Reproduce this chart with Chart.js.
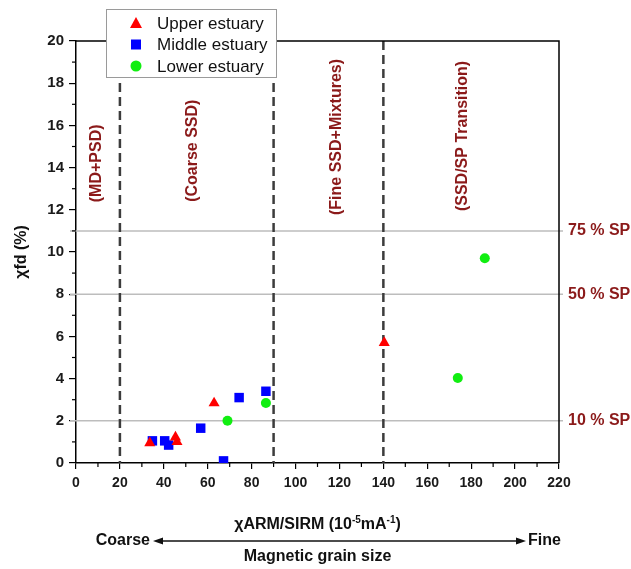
<!DOCTYPE html>
<html>
<head>
<meta charset="utf-8">
<script src="https://cdn.jsdelivr.net/npm/chart.js@4.4.0/dist/chart.umd.min.js"></script>
<style>
  body { margin: 0; background: #fff; }
  canvas { display: block; }
</style>
</head>
<body>
<canvas id="grainChart" width="631" height="569"></canvas>
<script>
// values
var upperX = [33.6, 45.3, 46.0, 62.9, 140.4];
var upperY = [0.95, 1.22, 1.0, 2.84, 5.7];
var middleX = [34.8, 40.4, 42.2, 56.8, 67.2, 74.3, 86.5];
var middleY = [1.05, 1.05, 0.85, 1.65, 0.1, 3.1, 3.4];
var lowerX = [69.0, 86.5, 173.9, 186.2];
var lowerY = [2.0, 2.84, 4.03, 9.7];

var spLevels = [2, 8, 11];
var spLabels = ["10 % SP", "50 % SP", "75 % SP"];
var boundaries = [20, 90, 140];
var regionNames = ["(MD+PSD)", "(Coarse SSD)", "(Fine SSD+Mixtures)", "(SSD/SP Transition)"];
var regionX = [9.5, 53.3, 118.8, 175.9];
var regionY = [14.2, 14.8, 15.45, 15.5];

var FONT = "'Liberation Sans', Arial, sans-serif";
var DARKRED = "#8b1a1a";

function toPoints(xs, ys) {
	var pts = [];
	for (var i = 0; i < xs.length; i++) pts.push({x: xs[i], y: ys[i]});
	return pts;
}

// text with small raised parts, centred on cx
function drawSupText(ctx, parts, cx, cy) {
	var big = "bold 16px " + FONT, small = "bold 10px " + FONT;
	var total = 0;
	parts.forEach(function(p) { ctx.font = p[1] ? small : big; total += ctx.measureText(p[0]).width; });
	var x = cx - total / 2;
	ctx.textAlign = "left";
	parts.forEach(function(p) {
		ctx.font = p[1] ? small : big;
		ctx.fillText(p[0], x, p[1] ? cy - 5 : cy);
		x += ctx.measureText(p[0]).width;
	});
}

var overlay = {
	id: "overlay",
	beforeDatasetsDraw: function(chart) {
		var ctx = chart.ctx, a = chart.chartArea;
		var xs = chart.scales.x, ys = chart.scales.y;
		ctx.save();
		// SP reference lines
		ctx.strokeStyle = "#bdbdbd";
		ctx.lineWidth = 1.5;
		spLevels.forEach(function(v) {
			var py = ys.getPixelForValue(v);
			ctx.beginPath();
			ctx.moveTo(a.left - 6, py);
			ctx.lineTo(a.right + 4, py);
			ctx.stroke();
		});
		// domain boundaries
		ctx.strokeStyle = "#3c3c3c";
		ctx.lineWidth = 2.5;
		ctx.setLineDash([9, 5]);
		boundaries.forEach(function(v) {
			var px = xs.getPixelForValue(v);
			ctx.beginPath();
			ctx.moveTo(px, a.top);
			ctx.lineTo(px, a.bottom);
			ctx.stroke();
		});
		ctx.setLineDash([]);
		// region names
		ctx.fillStyle = DARKRED;
		ctx.font = "bold 16px " + FONT;
		ctx.textAlign = "center";
		ctx.textBaseline = "middle";
		regionNames.forEach(function(t, i) {
			ctx.save();
			ctx.translate(xs.getPixelForValue(regionX[i]), ys.getPixelForValue(regionY[i]));
			ctx.rotate(-Math.PI / 2);
			ctx.fillText(t, 0, 0);
			ctx.restore();
		});
		ctx.restore();
	},
	afterDraw: function(chart) {
		var ctx = chart.ctx, a = chart.chartArea;
		var xs = chart.scales.x, ys = chart.scales.y;
		ctx.save();
		// frame top / right
		ctx.strokeStyle = "#000";
		ctx.lineWidth = 1.5;
		ctx.beginPath();
		ctx.moveTo(a.left, a.top);
		ctx.lineTo(a.right, a.top);
		ctx.lineTo(a.right, a.bottom);
		ctx.stroke();
		// minor ticks
		ctx.lineWidth = 1.2;
		for (var v = 10; v < 220; v += 20) {
			var px = xs.getPixelForValue(v);
			ctx.beginPath(); ctx.moveTo(px, a.bottom); ctx.lineTo(px, a.bottom + 4); ctx.stroke();
		}
		for (var w = 1; w < 20; w += 2) {
			var py = ys.getPixelForValue(w);
			ctx.beginPath(); ctx.moveTo(a.left, py); ctx.lineTo(a.left - 4, py); ctx.stroke();
		}
		// SP labels
		ctx.fillStyle = DARKRED;
		ctx.font = "bold 16px " + FONT;
		ctx.textAlign = "left";
		ctx.textBaseline = "middle";
		spLevels.forEach(function(lv, i) {
			ctx.fillText(spLabels[i], a.right + 9, ys.getPixelForValue(lv));
		});
		// axis titles
		ctx.fillStyle = "#111";
		var mid = (a.left + a.right) / 2;
		drawSupText(ctx, [["\u03C7ARM/SIRM (10", false], ["-5", true], ["mA", false], ["-1", true], [")", false]], mid, 525);
		ctx.font = "bold 16px " + FONT;
		ctx.textAlign = "center";
		ctx.fillText("Magnetic grain size", mid, 557);
		ctx.textAlign = "right";
		ctx.fillText("Coarse", 150, 541);
		ctx.textAlign = "left";
		ctx.fillText("Fine", 528, 541);
		ctx.save();
		ctx.translate(22, (a.top + a.bottom) / 2);
		ctx.rotate(-Math.PI / 2);
		ctx.textAlign = "center";
		ctx.fillText("\u03C7fd (%)", 0, 0);
		ctx.restore();
		// grain size arrow
		ctx.strokeStyle = "#111";
		ctx.lineWidth = 1.5;
		ctx.beginPath(); ctx.moveTo(160, 541); ctx.lineTo(518, 541); ctx.stroke();
		ctx.beginPath();
		ctx.moveTo(153, 541); ctx.lineTo(163, 537.5); ctx.lineTo(163, 544.5); ctx.closePath();
		ctx.moveTo(526, 541); ctx.lineTo(516, 537.5); ctx.lineTo(516, 544.5); ctx.closePath();
		ctx.fillStyle = "#111";
		ctx.fill();
		// legend
		ctx.fillStyle = "#fff";
		ctx.fillRect(106, 9, 171, 68);
		ctx.strokeStyle = "#9a9a9a";
		ctx.lineWidth = 1;
		ctx.strokeRect(106.5, 9.5, 170, 68);
		ctx.font = "17px " + FONT;
		ctx.textBaseline = "middle";
		chart.data.datasets.forEach(function(ds, i) {
			var cy = 23 + i * 21.5, cx = 136;
			ctx.fillStyle = ds.backgroundColor;
			ctx.beginPath();
			if (ds.pointStyle === "triangle") {
				ctx.moveTo(cx, cy - 6); ctx.lineTo(cx + 6, cy + 5); ctx.lineTo(cx - 6, cy + 5); ctx.closePath();
			} else if (ds.pointStyle === "rect") {
				ctx.rect(cx - 5, cy - 5, 10, 10);
			} else {
				ctx.arc(cx, cy, 5.5, 0, Math.PI * 2);
			}
			ctx.fill();
			ctx.fillStyle = "#111";
			ctx.textAlign = "left";
			ctx.fillText(ds.label, 157, cy + 1);
		});
		ctx.restore();
	}
};

var grainChart = new Chart("grainChart", {
	type: "scatter",
	data: {
		datasets: [{
			label: "Upper estuary",
			data: toPoints(upperX, upperY),
			pointStyle: "triangle",
			pointRadius: 6.4,
			backgroundColor: "#ff0000",
			borderColor: "#ff0000",
			borderWidth: 0
		}, {
			label: "Middle estuary",
			data: toPoints(middleX, middleY),
			pointStyle: "rect",
			pointRadius: 6.7,
			backgroundColor: "#0000ff",
			borderColor: "#0000ff",
			borderWidth: 0
		}, {
			label: "Lower estuary",
			data: toPoints(lowerX, lowerY),
			pointStyle: "circle",
			pointRadius: 5,
			backgroundColor: "#11ee11",
			borderColor: "#11ee11",
			borderWidth: 0
		}]
	},
	options: {
		responsive: false,
		animation: false,
		events: [],
		layout: { padding: { left: 0, right: 72, top: 41, bottom: 0 } },
		plugins: { legend: { display: false }, tooltip: { enabled: false } },
		scales: {
			x: {
				type: "linear",
				min: 0,
				max: 220,
				afterFit: function(s) { s.height = 106; },
				ticks: { stepSize: 20, padding: 6, color: "#1a1a1a", font: { family: FONT, size: 14, weight: "bold" } },
				grid: { drawOnChartArea: false, color: "#000", tickLength: 6, lineWidth: 1.2 },
				border: { color: "#000", width: 1.5 }
			},
			y: {
				min: 0,
				max: 20,
				afterFit: function(s) { s.width = 76; },
				ticks: { stepSize: 2, padding: 5, color: "#1a1a1a", font: { family: FONT, size: 15, weight: "bold" } },
				grid: { drawOnChartArea: false, color: "#000", tickLength: 7, lineWidth: 1.2 },
				border: { color: "#000", width: 1.5 }
			}
		}
	},
	plugins: [overlay]
});
</script>
</body>
</html>
